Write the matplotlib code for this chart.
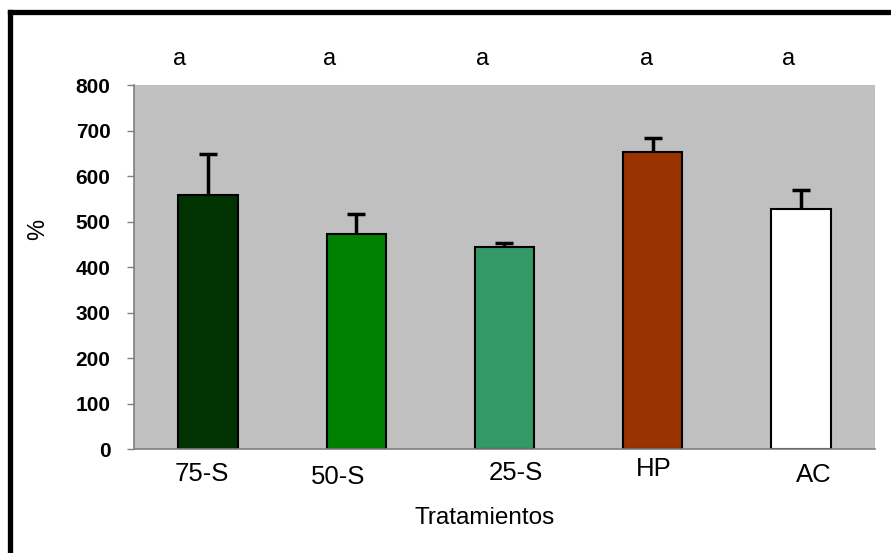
import matplotlib.pyplot as plt
from matplotlib.lines import Line2D

plt.rcParams['font.family'] = ['Liberation Sans', 'DejaVu Sans']

# tratamientos y porcentajes
tratamientos = ['75-S', '50-S', '25-S', 'HP', 'AC']
media = [558, 472, 445, 653, 527]
error = [90, 44, 7, 31, 42]
letras = ['a', 'a', 'a', 'a', 'a']
colores = ['#003300', '#008000', '#339966', '#993300', '#ffffff']

fig = plt.figure(figsize=(8.91, 5.53), dpi=100)
ax = fig.add_axes([0.1504, 0.188, 0.8316, 0.658])
ax.set_facecolor('#c0c0c0')

x = list(range(len(tratamientos)))
ax.bar(x, media, width=0.4, color=colores, edgecolor='black', linewidth=1.5, zorder=2)
# solo la mitad superior de la barra de error
eb = ax.errorbar(x, media, yerr=[[0] * len(error), error], fmt='none', ecolor='black',
                 elinewidth=2.5, capsize=6.5, capthick=2.5, zorder=3)
eb.lines[1][0].set_visible(False)

ax.set_xlim(-0.5, 4.5)
ax.set_ylim(0, 800)
ax.set_yticks(range(0, 801, 100))
ax.tick_params(axis='y', length=5, width=1, color='#808080', pad=12, labelsize=15)
for t in ax.get_yticklabels():
    t.set_fontweight('bold')
ax.set_xticks([])

for s in ['top', 'right']:
    ax.spines[s].set_visible(False)
for s in ['left', 'bottom']:
    ax.spines[s].set_color('#808080')
    ax.spines[s].set_linewidth(1.2)

# etiquetas de categoria, un poco desplazadas como en el original
dx_lab = [-0.04, -0.12, 0.08, 0.01, 0.09]
dy_lab = [-0.068, -0.077, -0.065, -0.054, -0.071]
for i, lab in enumerate(tratamientos):
    ax.text(x[i] + dx_lab[i], dy_lab[i], lab, transform=ax.get_xaxis_transform(),
            ha='center', va='center', fontsize=18.5)

# letras de significancia
dx_let = [-0.19, -0.18, -0.15, -0.04, -0.08]
for i, l in enumerate(letras):
    ax.text(x[i] + dx_let[i], 1.071, l, transform=ax.get_xaxis_transform(),
            ha='center', va='center', fontsize=17)

fig.text(485 / 891, 1 - 518 / 553, 'Tratamientos', ha='center', va='center', fontsize=17.5)
fig.text(38 / 891, 1 - 229 / 553, '%', ha='center', va='center', fontsize=17, rotation=90)

# marco negro superior e izquierdo
fig.add_artist(Line2D([10 / 891, 10 / 891], [0, 1 - 11.5 / 553], color='black', linewidth=3.8,
                      transform=fig.transFigure, solid_capstyle='projecting'))
fig.add_artist(Line2D([10 / 891, 1.0], [1 - 11.5 / 553, 1 - 11.5 / 553], color='black', linewidth=3.8,
                      transform=fig.transFigure, solid_capstyle='projecting'))

fig.savefig('out.png', dpi=100)
